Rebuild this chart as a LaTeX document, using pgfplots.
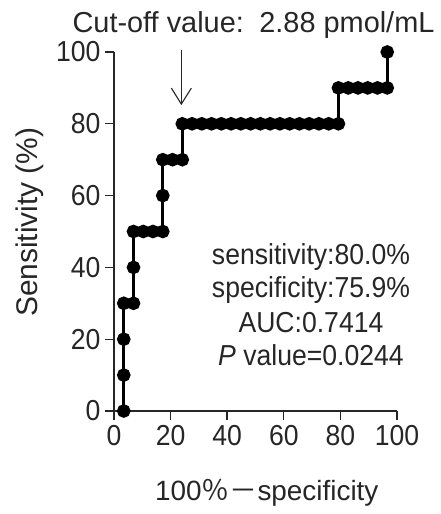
\documentclass[border=0pt]{standalone}
\usepackage{pgfplots}
\pgfplotsset{compat=1.18}
\usepackage{fontspec}
\setmainfont{Liberation Sans}
\newfontfamily\condfont[FakeStretch=0.92]{Liberation Sans}
\newfontfamily\cjk{Noto Sans CJK SC}
\usetikzlibrary{arrows.meta}

\begin{document}
\begin{tikzpicture}
\begin{axis}[
  name=ax,
  scale only axis,
  width=283bp, height=359bp,
  xmin=0, xmax=100, ymin=0, ymax=100,
  axis lines*=left,
  axis line style={line width=1.4bp, black!85},
  tick style={line width=1.4bp, black!85},
  tick align=outside,
  major tick length=9bp,
  xtick={0,20,40,60,80,100},
  ytick={0,20,40,60,80,100},
  /pgf/number format/assume math mode=true,
  ticklabel style={font=\condfont\fontsize{29}{29}\selectfont, text=black!85},
  xticklabel style={yshift=-2bp},
  yticklabel style={xshift=-1bp},
  xlabel={100{\cjk ％－}specificity},
  xlabel style={at={(axis description cs:0.54,-0.248)}, anchor=base, font=\fontsize{28}{28}\selectfont, text=black!85},
  ylabel={Sensitivity (\%)},
  ylabel style={at={(axis description cs:-0.297,0.526)}, anchor=center, font=\fontsize{30}{30}\selectfont, text=black!85},
  clip=false,
]
\addplot[line width=2.8bp, black, mark=*, mark size=5.4bp, mark options={fill=black}] coordinates {
(3.448,0) (3.448,10) (3.448,20) (3.448,30)
(6.897,30) (6.897,40) (6.897,50)
(10.345,50) (13.793,50)
(17.241,50) (17.241,60) (17.241,70)
(20.690,70)
(24.138,70) (24.138,80)
(27.586,80) (31.034,80) (34.483,80) (37.931,80) (41.379,80) (44.828,80)
(48.276,80) (51.724,80) (55.172,80) (58.621,80) (62.069,80) (65.517,80)
(68.966,80) (72.414,80) (75.862,80)
(79.310,80) (79.310,90)
(82.759,90) (86.207,90) (89.655,90) (93.103,90)
(96.552,90) (96.552,100)
};
\draw[line width=1.1bp, black!85, -{Straight Barb[length=16bp, width=20bp, line width=1.1bp]}] (axis cs:23.8,100.6) -- (axis cs:23.8,85.2);
\node[anchor=base, font=\fontsize{29}{29}\selectfont, text=black!85] at (axis description cs:0.493,1.053) {Cut-off value:\, 2.88 pmol/mL};
\begin{scope}[every node/.style={anchor=base, font=\condfont\fontsize{29}{29}\selectfont, text=black!85}]
\node at (axis cs:69.6,40.67) {sensitivity:80.0\%};
\node at (axis cs:69.6,31.48) {specificity:75.9\%};
\node at (axis cs:69.6,21.73) {AUC:0.7414};
\node at (axis cs:69.6,12.81) {\textit{P} value=0.0244};
\end{scope}
\end{axis}
\pgfresetboundingbox
\useasboundingbox ([shift={(-114bp,-103bp)}]ax.south west) rectangle ++(441bp,514bp);
\end{tikzpicture}
\end{document}
